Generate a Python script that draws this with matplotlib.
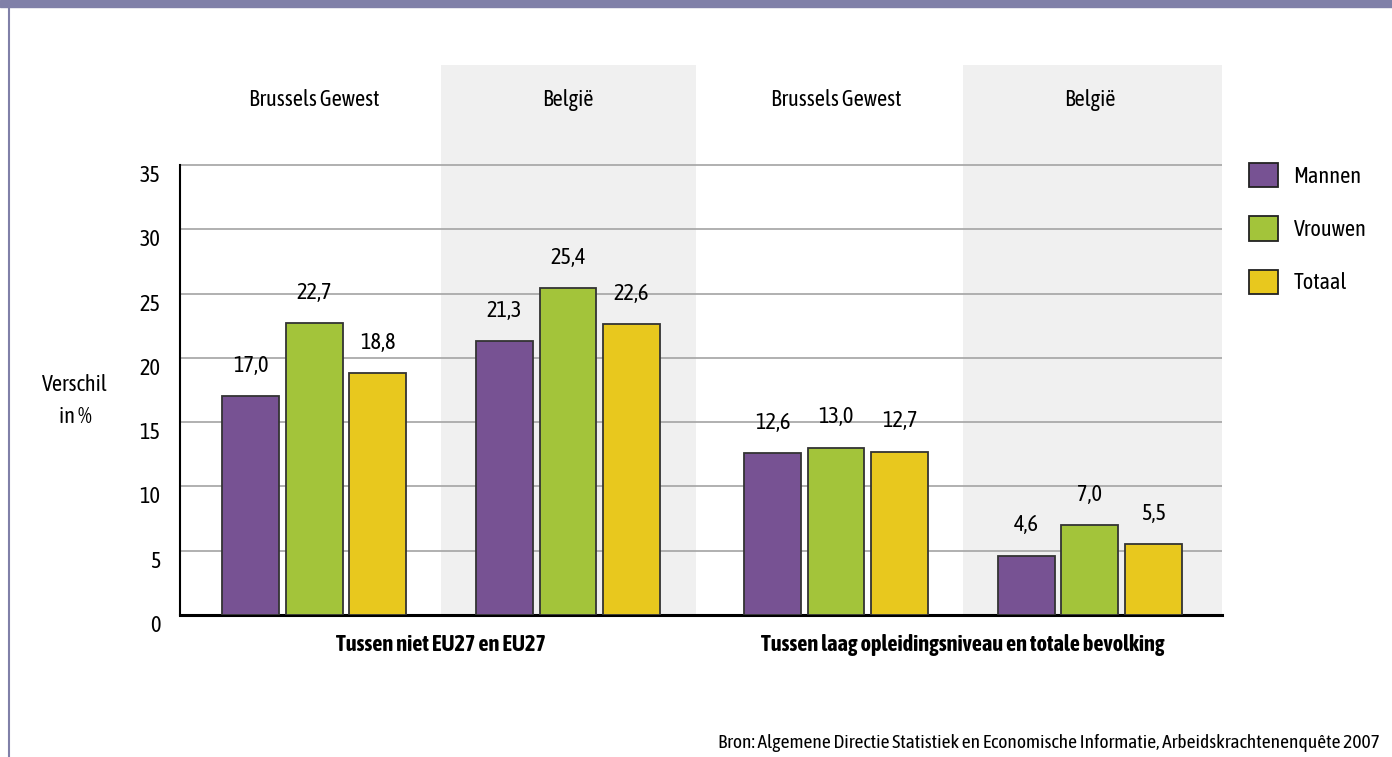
import numpy as np
import matplotlib.pyplot as plt
from matplotlib.patches import Rectangle, Patch
from matplotlib.transforms import blended_transform_factory

plt.rcParams['font.family'] = ['Asap Condensed', 'Archivo Narrow', 'DejaVu Sans']

# data
series = ['Mannen', 'Vrouwen', 'Totaal']
regions = ['Brussels Gewest', 'België', 'Brussels Gewest', 'België']
comparisons = ['Tussen niet EU27 en EU27', 'Tussen laag opleidingsniveau en totale bevolking']
mannen = [17.0, 21.3, 12.6, 4.6]
vrouwen = [22.7, 25.4, 13.0, 7.0]
totaal = [18.8, 22.6, 12.7, 5.5]
yticks = [0, 5, 10, 15, 20, 25, 30, 35]
source = 'Bron: Algemene Directie Statistiek en Economische Informatie, Arbeidskrachtenenquête 2007'

colors = ['#775293', '#a3c43a', '#e8c81e']
shade = '#f0f0f0'
frame = '#8080a8'
FS = 16

W, H = 1392, 757
fig = plt.figure(figsize=(W / 100, H / 100), dpi=100)

# frame: top band + left line
fig.patches.append(Rectangle((0, 1 - 7 / H), 1, 7 / H, transform=fig.transFigure,
                             color=frame, zorder=0))
fig.lines.append(plt.Line2D([9 / W, 9 / W], [0, 1 - 7 / H], transform=fig.transFigure,
                            color=frame, lw=1.5))

ax = fig.add_axes([180 / W, (H - 615) / H, (1222 - 180) / W, 550 / H])

gap = 0.055
centers = np.arange(len(regions)) + np.array([0, 0, 1, 1]) * gap
bw = 0.224
step = 0.25
xmin, xmax = -0.528, 3.575

# shaded background for België groups
for i, r in enumerate(regions):
    if r == 'België':
        left = (centers[i - 1] + centers[i]) / 2
        right = xmax if i == len(regions) - 1 else centers[i] + 0.505
        ax.axvspan(left, right, color=shade, zorder=0.2, lw=0)

for k, (vals, name) in enumerate(zip([mannen, vrouwen, totaal], series)):
    xs = centers + (k - 1) * step
    bars = ax.bar(xs, vals, width=bw, color=colors[k], edgecolor='#333333',
                  linewidth=1.3, zorder=3, label=name)
    for b, v in zip(bars, vals):
        ax.annotate(f'{v:.1f}'.replace('.', ','), (b.get_x() + b.get_width() / 2, v),
                    xytext=(0, 14), textcoords='offset points',
                    ha='center', va='bottom', fontsize=FS)

ax.set_xlim(xmin, xmax)
ax.set_ylim(0, 550 / (450 / 35))
ax.set_yticks(yticks)
ax.set_yticklabels([str(t) for t in yticks], fontsize=FS)
for lab in ax.get_yticklabels():
    lab.set_va('top')
ax.tick_params(axis='y', length=0, pad=14)
ax.set_xticks([])
ax.yaxis.grid(True, color='#aaaaaa', lw=1.3)
ax.set_axisbelow(True)
for s in ['top', 'right']:
    ax.spines[s].set_visible(False)
ax.spines['left'].set_bounds(0, 35)
ax.spines['left'].set_linewidth(1.5)
ax.spines['bottom'].set_linewidth(2.2)
ax.patch.set_alpha(0)

tr = blended_transform_factory(ax.transData, ax.transAxes)
for c, r in zip(centers, regions):
    ax.text(c, 1 - 35 / 550, r, transform=tr, ha='center', va='center', fontsize=FS)
for j, lab in enumerate(comparisons):
    c = (centers[2 * j] + centers[2 * j + 1]) / 2
    ax.text(c, -30 / 550, lab, transform=tr, ha='center', va='center',
            fontsize=FS, fontweight='bold')

fig.text(75 / W, 1 - 401 / H, 'Verschil\nin %', ha='center', va='center',
         fontsize=FS, linespacing=1.6)

handles = [Patch(facecolor=c, edgecolor='#222222', lw=1.3) for c in colors]
ax.legend(handles, series, loc='upper left', bbox_to_anchor=(1249 / W, 1 - 163 / H),
          bbox_transform=fig.transFigure, frameon=False, fontsize=FS,
          handlelength=1.3, handleheight=1.3, labelspacing=1.3, handletextpad=0.7,
          borderpad=0, borderaxespad=0)

fig.text(1380 / W, 1 - 743 / H, source, ha='right', va='center', fontsize=14)

fig.savefig('out.png', dpi=100)
